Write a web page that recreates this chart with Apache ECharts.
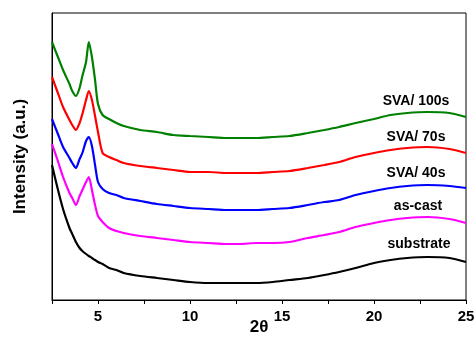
<!DOCTYPE html>
<html>
<head>
<meta charset="utf-8">
<script src="https://cdn.jsdelivr.net/npm/echarts@6/dist/echarts.min.js"></script>
<style>
  html, body { margin: 0; padding: 0; background: #fff; }
  #chart { width: 476px; height: 342px; }
</style>
</head>
<body>
<div id="chart"></div>
<script>
// 2-theta sample positions
const twoTheta = [2.5, 2.8, 3.1, 3.45, 3.6, 3.8, 4.0, 4.15, 4.35, 4.5, 4.67, 4.84, 5.0, 5.25, 5.6, 6.0, 6.4, 7.3, 8.2, 9.1, 10.0, 11.0, 12.0, 12.7, 13.6, 14.5, 15.4, 16.4, 17.3, 18.1, 19.0, 20.0, 20.9, 21.8, 22.9, 24.1, 25.0];

// intensities (a.u., offset traces)
const sva100 = [258, 244, 230, 216, 209, 204, 212, 224, 238, 258, 243, 220, 196, 185, 181, 177, 174, 170, 168, 165, 164, 163, 162, 162, 162, 163, 164, 167, 170, 173, 177, 181, 185, 187, 188, 187, 183];
const sva70 = [223, 208, 193, 180, 175, 170, 177, 186, 200, 209, 200, 184, 168, 147, 143, 140, 137, 134, 132, 130, 128, 128, 127, 127, 127, 128, 129, 132, 135, 138, 143, 147, 150, 152, 153, 151, 147];
const sva40 = [181, 167, 153, 142, 137, 132, 141, 147, 159, 163, 154, 135, 118, 111, 107, 105, 102, 99, 96, 94, 92, 91, 90, 90, 90, 91, 92, 95, 98, 100, 105, 109, 112, 114, 115, 114, 112];
const asCast = [156, 140, 123, 107, 102, 95, 104, 110, 118, 123, 110, 95, 84, 78, 72, 69, 67, 64, 62, 60, 58, 57, 56, 56, 57, 57, 58, 62, 65, 68, 73, 77, 80, 82, 83, 81, 77];
const substrate = [135, 112, 91, 72, 66, 58, 52, 49, 46, 44, 42, 40, 38, 36, 32, 30, 27, 24, 22, 20, 18, 17, 17, 17, 17, 18, 20, 22, 25, 28, 32, 37, 40, 42, 43, 42, 38];

const seriesNames = ["SVA/ 100s", "SVA/ 70s", "SVA/ 40s", "as-cast", "substrate"];
const seriesData = [sva100, sva70, sva40, asCast, substrate];
const colors = ["#008000", "#ff0000", "#0000ff", "#ff00ff", "#000000"];
const xTicks = [5, 10, 15, 20, 25];

const chart = echarts.init(document.getElementById("chart"));

const font = "Liberation Sans, Arial, sans-serif";

// label positions (pixels) next to each trace
const labelPos = [[416, 101], [416, 137], [416, 173], [418, 206], [419, 244]];

const option = {
  animation: false,
  backgroundColor: "#fff",
  grid: {
    left: 52, right: 10, top: 13, bottom: 42,
    outerBoundsMode: "none",
    show: true, borderColor: "#000", borderWidth: 1,
  },
  xAxis: {
    type: "value",
    min: 2.5,
    max: 25,
    interval: 2.5,
    name: "2θ",
    nameLocation: "middle",
    nameGap: 19,
    nameMoveOverlap: false,
    nameTextStyle: { fontFamily: font, fontWeight: "bold", fontSize: 17, color: "#000" },
    axisLine: { lineStyle: { color: "#000", width: 1 } },
    axisTick: { show: true, length: 4, lineStyle: { color: "#000" } },
    axisLabel: {
      fontFamily: font, fontWeight: "bold", fontSize: 15, color: "#000", margin: 9,
      formatter: (v) => (xTicks.includes(v) ? String(v) : ""),
    },
    splitLine: { show: false },
  },
  yAxis: {
    type: "value",
    min: 0,
    max: 287,
    name: "Intensity (a.u.)",
    nameLocation: "middle",
    nameGap: 23,
    nameTextStyle: { fontFamily: font, fontWeight: "bold", fontSize: 17, color: "#000" },
    axisLine: { show: true, lineStyle: { color: "#000", width: 1 } },
    axisTick: { show: false },
    axisLabel: { show: false },
    splitLine: { show: false },
  },
  series: seriesNames.map((name, i) => ({
    name,
    type: "line",
    data: twoTheta.map((t, j) => [t, seriesData[i][j]]),
    showSymbol: false,
    smooth: 0.25,
    lineStyle: { color: colors[i], width: 2.2 },
  })),
  graphic: seriesNames.map((name, i) => ({
    type: "text",
    x: labelPos[i][0],
    y: labelPos[i][1],
    style: {
      text: name,
      fontFamily: font,
      fontWeight: "bold",
      fontSize: 14,
      fill: "#000",
      align: "center",
      verticalAlign: "middle",
    },
  })),
};

chart.setOption(option);
</script>
</body>
</html>
